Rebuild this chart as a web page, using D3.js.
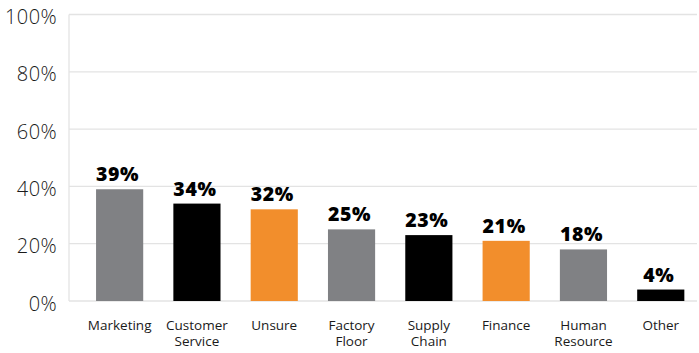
<!DOCTYPE html>
<html>
<head>
<meta charset="utf-8">
<script src="https://cdn.jsdelivr.net/npm/d3@7"></script>
<style>
  body { margin: 0; background: #fff; }
  text { font-family: "Open Sans", sans-serif; }
</style>
</head>
<body>
<svg id="chart"></svg>
<script>
const categories = [["Marketing"], ["Customer", "Service"], ["Unsure"], ["Factory", "Floor"],
    ["Supply", "Chain"], ["Finance"], ["Human", "Resource"], ["Other"]];
const values = [39, 34, 32, 25, 23, 21, 18, 4];
const barColors = ["#808184", "#000000", "#f28e2c", "#808184", "#000000", "#f28e2c", "#808184", "#000000"];
const yTicks = [0, 20, 40, 60, 80, 100];

const width = 699, height = 353;
const svg = d3.select("#chart").attr("width", width).attr("height", height);

const names = categories.map(c => c.join(" "));

const x = d3.scaleBand()
    .domain(names)
    .range([69, 711.4])
    .paddingInner(0.39)
    .paddingOuter(0.35);

const y = d3.scaleLinear()
    .domain([0, 100])
    .range([301, 14.5]);

// gridlines
svg.selectAll(".grid")
    .data(yTicks)
    .join("line")
    .attr("class", "grid")
    .attr("x1", 69)
    .attr("x2", 697)
    .attr("y1", d => y(d))
    .attr("y2", d => y(d))
    .attr("stroke", "#e3e3e3")
    .attr("stroke-width", 1.3);

svg.append("line")
    .attr("x1", 69).attr("x2", 69)
    .attr("y1", y(100)).attr("y2", y(0))
    .attr("stroke", "#e3e3e3")
    .attr("stroke-width", 1.3);

// y tick labels
svg.selectAll(".ytick")
    .data(yTicks)
    .join("text")
    .attr("class", "ytick")
    .attr("x", 57)
    .attr("y", d => y(d) + 9.5)
    .attr("text-anchor", "end")
    .attr("font-size", 20)
    .attr("font-weight", 300)
    .attr("letter-spacing", 0.4)
    .attr("fill", "#1a1a1a")
    .text(d => d + "%");

// bars
svg.selectAll(".bar")
    .data(values)
    .join("rect")
    .attr("class", "bar")
    .attr("x", (d, i) => x(names[i]))
    .attr("width", x.bandwidth())
    .attr("y", d => y(d))
    .attr("height", d => y(0) - y(d))
    .attr("fill", (d, i) => barColors[i]);

// value labels
svg.selectAll(".val")
    .data(values)
    .join("text")
    .attr("class", "val")
    .attr("x", (d, i) => x(names[i]) + x.bandwidth() / 2 - 2)
    .attr("y", d => y(d) - 8)
    .attr("text-anchor", "middle")
    .attr("font-size", 19.5)
    .attr("font-weight", 800)
    .attr("letter-spacing", 0.6)
    .attr("fill", "#000")
    .text(d => d + "%");

// category labels
svg.selectAll(".cat")
    .data(categories)
    .join("text")
    .attr("class", "cat")
    .attr("x", (d, i) => x(names[i]) + x.bandwidth() / 2)
    .attr("y", 330)
    .attr("text-anchor", "middle")
    .attr("font-size", 13.5)
    .attr("fill", "#1a1a1a")
    .selectAll("tspan")
    .data(d => d)
    .join("tspan")
    .attr("x", function() { return this.parentNode.getAttribute("x"); })
    .attr("dy", (d, i) => i === 0 ? 0 : 16)
    .text(d => d);
</script>
</body>
</html>
